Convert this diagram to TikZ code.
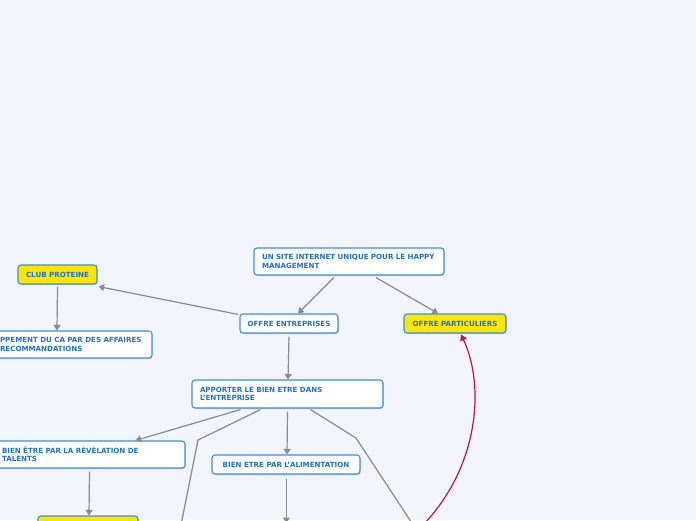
\documentclass[tikz,border=0pt]{standalone}
\usepackage{fontspec}
\setmainfont{DejaVu Sans}
\usetikzlibrary{arrows.meta,shadows,calc}
\definecolor{bg}{HTML}{F2F5FE}
\definecolor{bord}{HTML}{3A8EE6}
\definecolor{txt}{HTML}{1E6FD9}
\definecolor{yel}{HTML}{FFE600}
\definecolor{edge}{HTML}{8A8A8E}
\definecolor{redc}{HTML}{C8103C}
\tikzset{
  box/.style={draw=bord, line width=1.1pt, rounded corners=3pt, fill=white,
    text=txt, font=\fontsize{7.1}{8.4}\selectfont\bfseries, inner sep=0pt,
    drop shadow={shadow xshift=0.7pt, shadow yshift=-1pt, opacity=0.35, fill=gray}},
  ybox/.style={box, fill=yel},
  conn/.style={draw=edge, line width=1.2pt},
  arr/.style={conn, -{Triangle[width=7pt,length=5.5pt]}},
  rarr/.style={draw=redc, line width=1.2pt, -{Triangle[width=7pt,length=6pt]}}
}
\begin{document}
\begin{tikzpicture}[x=1pt,y=-1pt]
\useasboundingbox (0,0) rectangle (696,520);
\fill[bg] (0,0) rectangle (696,520);
\clip (0,0) rectangle (696,520);

% nodes
\node[box, minimum width=190pt, minimum height=27pt, text width=174pt, align=left] (root) at (349,261.5) {UN SITE INTERNET UNIQUE POUR LE HAPPY\\MANAGEMENT};
\node[box, minimum width=98pt, minimum height=19pt, align=center] (oe) at (289,323.5) {OFFRE ENTREPRISES};
\node[ybox, minimum width=102pt, minimum height=19pt, align=center] (op) at (455,323.5) {OFFRE PARTICULIERS};
\node[ybox, minimum width=79pt, minimum height=19pt, align=center] (cp) at (57.5,274.5) {CLUB PROTEINE};
\node[box, minimum width=160pt, minimum height=27pt, text width=144pt, align=left] (dev) at (72,344.5) {PPEMENT DU CA PAR DES AFFAIRES\\RECOMMANDATIONS};
\node[box, minimum width=191pt, minimum height=28pt, text width=175pt, align=left] (app) at (287.5,394) {APPORTER LE BIEN ETRE DANS\\L'ENTREPRISE};
\node[box, minimum width=191pt, minimum height=27pt, text width=175pt, align=left] (tal) at (89.5,454.5) {BIEN ÊTRE PAR LA RÉVÉLATION DE\\TALENTS};
\node[box, minimum width=148pt, minimum height=19pt, align=center] (ali) at (286,464.5) {BIEN ETRE PAR L'ALIMENTATION};
\node[ybox, minimum width=100pt, minimum height=19pt] (yb) at (88,525.5) {};
\coordinate (b1) at (178,540);
\coordinate (b2) at (286.4,523);
\coordinate (b3) at (423,540);
\coordinate (b4) at (418,530);

% connectors
\draw[arr] ([xshift=-15pt,yshift=-2pt]root.south) -- ([xshift=9pt]oe.north);
\draw[arr] ([xshift=27pt,yshift=-2pt]root.south) -- ([xshift=-17pt]op.north);
\draw[arr] ([xshift=-1pt,yshift=-1pt]oe.north west) -- ([xshift=1pt,yshift=-2pt]cp.south east);
\draw[arr] ([yshift=-2pt]cp.south) -- ([xshift=-15pt]dev.north);
\draw[arr] ([yshift=-3pt]oe.south) -- ([xshift=0.5pt]app.north);
\draw[arr] ([xshift=-47pt,yshift=-1pt]app.south) -- ([xshift=46pt]tal.north);
\draw[conn] ([xshift=-27pt,yshift=-1pt]app.south) -- (198,440) -- (b1);
\draw[arr] ([yshift=-3pt]app.south) -- ([xshift=1pt]ali.north);
\draw[conn] ([xshift=23pt,yshift=-1pt]app.south) -- (356,438) -- (b3);
\draw[arr] ([yshift=-3pt]tal.south) -- ([xshift=1pt]yb.north);
\draw[arr] ([xshift=0.4pt,yshift=-4pt]ali.south) -- (b2);
\draw[rarr] (b4) .. controls (480,470) and (485,385) .. ([xshift=6pt,yshift=-1pt]op.south);
\end{tikzpicture}
\end{document}
